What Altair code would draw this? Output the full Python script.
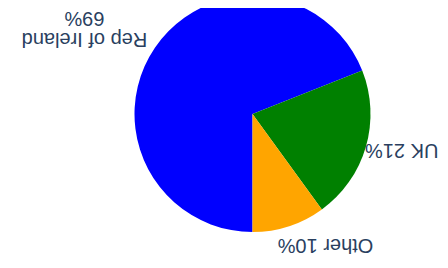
import math
import altair as alt
import pandas as pd

categories = ["Rep of Ireland", "UK", "Other"]
shares = [69, 21, 10]
label_texts = ["Rep of Ireland\n69%", "UK 21%", "Other 10%"]
colors = ["#0000ff", "#008000", "#ffa500"]

df = pd.DataFrame({
    "cat": categories,
    "share": shares,
    "label": label_texts,
    "order": list(range(len(categories))),
})

theta = alt.Theta("share:Q", stack=True,
                  scale=alt.Scale(range=[math.pi, 3 * math.pi]))
order = alt.Order("order:Q")

pie = alt.Chart(df).mark_arc(radius=118).encode(
    theta=theta,
    order=order,
    color=alt.Color("cat:N", scale=alt.Scale(domain=categories, range=colors),
                    legend=None),
)


def label_layer(cat, align, dx, dy, line_height=26):
    return alt.Chart(df).mark_text(
        radius=130, angle=180, fontSize=20, font="Liberation Sans",
        color="#2a3f5f", lineBreak="\n", lineHeight=line_height,
        baseline="alphabetic", align=align, dx=dx, dy=dy,
    ).encode(
        theta=theta,
        order=order,
        detail="cat:N",
        text=alt.condition(alt.datum.cat == cat, "label:N", alt.value("")),
    )


chart = alt.layer(
    pie,
    label_layer("Rep of Ireland", "center", 60.5, 8, line_height=21),
    label_layer("UK", "right", 12.3, 6.3),
    label_layer("Other", "center", -32.8, -1.4),
).properties(
    width=211, height=212,
    padding={"left": 139, "top": 0, "right": 82, "bottom": 40},
    autosize=alt.AutoSizeParams(type="none"),
    background="white",
).configure_view(stroke=None)

chart.save("out.html", embed_options={"renderer": "svg", "actions": False})
